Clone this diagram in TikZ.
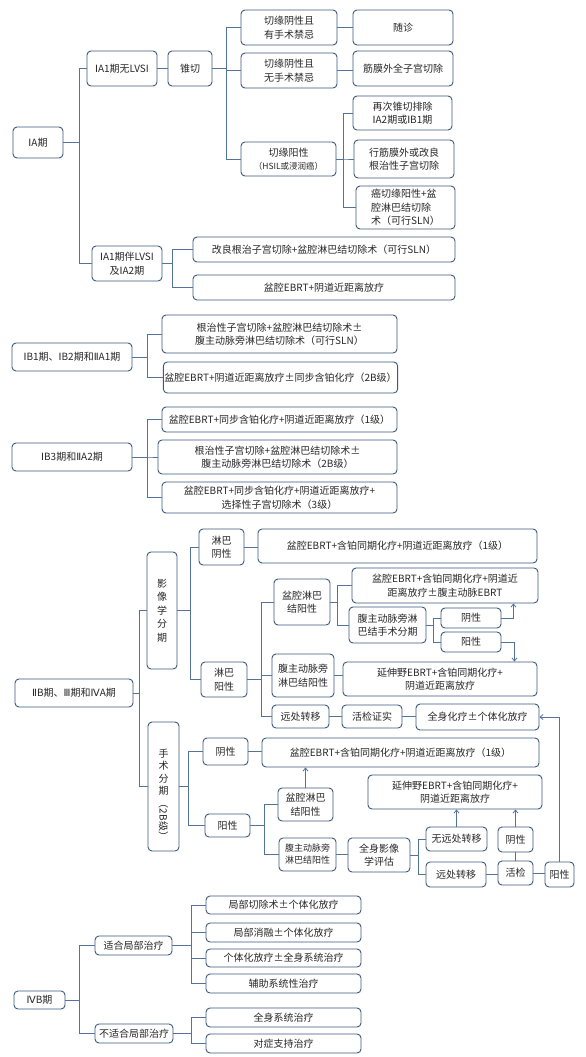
\documentclass[tikz,border=0pt]{standalone}
\usepackage{fontspec}
\usepackage{graphicx}
\setmainfont{Noto Sans CJK SC}
\newfontfamily\rnfont{DejaVu Sans}
\newcommand\RN[1]{{\rnfont #1}}
\usetikzlibrary{arrows.meta}
\definecolor{bdc}{RGB}{62,88,122}
\definecolor{lnc}{RGB}{84,115,155}
\definecolor{txc}{RGB}{40,40,40}
\tikzset{
  bx/.style={draw=bdc,line width=0.9pt,rounded corners=4pt,align=center,inner sep=1pt,text=txc,font=\fontsize{10}{13.5}\selectfont},
  lbl/.style={align=center,inner sep=0pt,text=txc,font=\fontsize{10}{12.5}\selectfont},
  ln/.style={draw=lnc,line width=0.8pt},
  ar/.style={ln,-{Straight Barb[length=3pt,width=5pt]}},
  sm/.style={font=\fontsize{9}{12}\selectfont}
}
\newcommand\mybox[7][]{\node[bx,minimum width={#5-#3},minimum height={#6-#4},#1] (#2) at ({(#3+#5)/2},{(#4+#6)/2}) {#7};}
\begin{document}
\begin{tikzpicture}[x=1pt,y=-1pt]
\fill[white] (0,0) rectangle (586,1057);
\useasboundingbox (0,0) rectangle (586,1057);
% ---- IA
\mybox{IA}{13}{127}{63}{158}{\RN{Ⅰ}A期}
\mybox{IAa}{87}{51}{157}{86}{\RN{Ⅰ}A1期无LVSI}
\mybox{zq}{168}{51}{212}{86}{锥切}
\mybox{qy1}{241}{10}{337}{45}{切缘阴性且\\有手术禁忌}
\mybox{qy2}{241}{53}{337}{88}{切缘阴性且\\无手术禁忌}
\mybox{qy3}{241}{142}{336}{176}{切缘阳性\\{\fontsize{8.5}{11}\selectfont（HSIL或浸润癌）}}
\mybox{sz}{353}{10}{453}{45}{随诊}
\mybox{jm}{353}{51}{453}{86}{筋膜外全子宫切除}
\mybox{zc}{353}{96}{452}{130}{再次锥切排除\\\RN{Ⅰ}A2期或\RN{Ⅰ}B1期}
\mybox{xj}{354}{140}{454}{178}{行筋膜外或改良\\根治性子宫切除}
\mybox[align=left]{aq}{356}{186}{455}{229}{癌切缘阳性+盆\\腔淋巴结切除\\术（可行SLN）}
\mybox{IAb}{92}{246}{162}{281}{\RN{Ⅰ}A1期伴LVSI\\及\RN{Ⅰ}A2期}
\mybox{gl}{193}{237}{455}{262}{改良根治子宫切除+盆腔淋巴结切除术（可行SLN）}
\mybox{pq1}{193}{275}{455}{300}{盆腔EBRT+阴道近距离放疗}
\draw[ln] (IA.east) -- ++(16,0) |- (IAa.west);
\draw[ln] (IA.east) -- ++(16,0) |- (IAb.west);
\draw[ln] (IAa.east) -- (IAa.east -| zq.west);
\draw[ln] (zq.east) -- ++(14,0) |- (qy1.west);
\draw[ln] (zq.east) -- ++(14,0) |- (qy2.west);
\draw[ln] (zq.east) -- ++(14,0) |- (qy3.west);
\draw[ln] (qy1.east) -- (qy1.east -| sz.west);
\draw[ln] (qy2.east) -- (qy2.east -| jm.west);
\draw[ln] (qy3.east) -- ++(7,0) |- (zc.west);
\draw[ln] (qy3.east) -- ++(7,0) |- (xj.west);
\draw[ln] (qy3.east) -- ++(7,0) |- (aq.west);
\draw[ln] (IAb.east) -- ++(10,0) |- (gl.west);
\draw[ln] (IAb.east) -- ++(10,0) |- (pq1.west);
% ---- IB1
\mybox{IB}{12}{343}{132}{371}{\RN{Ⅰ}B1期、\RN{Ⅰ}B2期和\RN{Ⅱ}A1期}
\mybox{gz1}{162}{315}{397}{353}{根治性子宫切除+盆腔淋巴结切除术±\\腹主动脉旁淋巴结切除术（可行SLN）}
\mybox{pq2}{164}{362}{397}{393}{盆腔EBRT+阴道近距离放疗±同步含铂化疗（2B级）}
\draw[ln] (IB.east) -- ++(15,0) |- (gz1.west);
\draw[ln] (IB.east) -- ++(15,0) |- (pq2.west);
% ---- IB3
\mybox{IBc}{12}{443}{132}{471}{\RN{Ⅰ}B3期和\RN{Ⅱ}A2期}
\mybox{ta}{162}{407}{397}{432}{盆腔EBRT+同步含铂化疗+阴道近距离放疗（1级）}
\mybox{tb}{158}{440}{397}{474}{根治性子宫切除+盆腔淋巴结切除术±\\腹主动脉旁淋巴结切除术（2B级）}
\mybox{tc}{162}{482}{397}{513}{盆腔EBRT+同步含铂化疗+阴道近距离放疗+\\选择性子宫切除术（3级）}
\draw[ln] (IBc.east) -- ++(15,0) |- (ta.west);
\draw[ln] (IBc.east) -- ++(15,0) |- (tb.west);
\draw[ln] (IBc.east) -- ++(15,0) |- (tc.west);
% ---- IIB
\mybox{IIB}{15}{679}{133}{707}{\RN{Ⅱ}B期、\RN{Ⅲ}期和\RN{Ⅳ}A期}
\mybox{yx}{147}{552}{177}{669}{影\\像\\学\\分\\期}
\mybox{lbn}{199}{529}{244}{565}{淋巴\\阴性}
\mybox{lbp}{201}{662}{247}{697}{淋巴\\阳性}
\mybox{ra}{258}{529}{537}{563}{盆腔EBRT+含铂同期化疗+阴道近距离放疗（1级）}
\mybox{pl}{274}{579}{330}{625}{盆腔淋巴\\结阳性}
\mybox{fz}{272}{654}{334}{697}{腹主动脉旁\\淋巴结阳性}
\mybox{yc}{272}{705}{329}{728}{远处转移}
\mybox{hj}{342}{705}{402}{728}{活检证实}
\mybox{qs}{416}{704}{539}{730}{全身化疗±个体化放疗}
\mybox{rb}{352}{568}{538}{603}{盆腔EBRT+含铂同期化疗+阴道近\\距离放疗±腹主动脉EBRT}
\mybox{fs}{349}{607}{426}{643}{腹主动脉旁淋\\巴结手术分期}
\mybox{na}{441}{608}{501}{628}{阴性}
\mybox{pa}{441}{632}{501}{652}{阳性}
\mybox{ysa}{343}{662}{537}{696}{延伸野EBRT+含铂同期化疗+\\阴道近距离放疗}
\draw[ln] (IIB.east) -- ++(6,0) |- (yx.west);
\draw[ln] (yx.east) -- ++(13,0) |- (lbn.west);
\draw[ln] (yx.east) -- ++(13,0) |- (lbp.west);
\draw[ln] (lbn.east) -- (lbn.east -| ra.west);
\draw[ln] (lbp.east) -- ++(14,0) |- (pl.west);
\draw[ln] (lbp.east) -- ++(14,0) |- (fz.west);
\draw[ln] (lbp.east) -- ++(14,0) |- (yc.west);
\draw[ln] (pl.east) -- ++(7,0) |- (rb.west);
\draw[ln] (pl.east) -- ++(7,0) |- (fs.west);
\draw[ln] (fs.east) -- ++(7,0) |- (na.west);
\draw[ln] (fs.east) -- ++(7,0) |- (pa.west);
\draw[ar] (na.east) -| ([xshift=-25pt]rb.south east);
\draw[ar] (pa.east) -| ([xshift=-23pt]ysa.north east);
\draw[ln] (fz.east) -- (fz.east -| ysa.west);
\draw[ln] (yc.east) -- (yc.east -| hj.west);
\draw[ln] (hj.east) -- (hj.east -| qs.west);
% ---- surgical staging
\mybox{ss}{148}{722}{179}{851}{}
\node[lbl] (ssa) at (163.5,772) {手\\术\\分\\期};
\node[lbl,rotate=-90] (ssb) at (163.5,820) {（2B级）};
\mybox{nb}{203}{738}{248}{765}{阴性}
\mybox{pb}{205}{814}{250}{837}{阳性}
\mybox{rc}{262}{738}{539}{767}{盆腔EBRT+含铂同期化疗+阴道近距离放疗（1级）}
\mybox{plb}{278}{788}{333}{821}{盆腔淋巴\\结阳性}
\mybox[sm]{fzb}{279}{838}{336}{871}{腹主动脉旁\\淋巴结阳性}
\mybox{qyx}{348}{838}{410}{872}{全身影像\\学评估}
\mybox{wy}{426}{827}{487}{851}{无远处转移}
\mybox{ycb}{426}{862}{486}{887}{远处转移}
\mybox{hjb}{498}{861}{533}{885}{活检}
\mybox{nc}{498}{827}{533}{852}{阴性}
\mybox{pc}{545}{862}{574}{887}{阳性}
\mybox{ysb}{368}{775}{542}{809}{延伸野EBRT+含铂同期化疗+\\阴道近距离放疗}
\draw[ln] (IIB.east) -- ++(6,0) |- (ss.west);
\draw[ln] (ss.east) -- ++(9,0) |- (nb.west);
\draw[ln] (ss.east) -- ++(9,0) |- (pb.west);
\draw[ln] (nb.east) -- (nb.east -| rc.west);
\draw[ln] (pb.east) -- ++(14,0) |- (plb.west);
\draw[ln] (pb.east) -- ++(14,0) |- (fzb.west);
\draw[ar] (plb.north) -- (plb.north |- rc.south);
\draw[ln] (fzb.east) -- (fzb.east -| qyx.west);
\draw[ln] (qyx.east) -- ++(8,0) |- (wy.west);
\draw[ln] (qyx.east) -- ++(8,0) |- (ycb.west);
\draw[ar] (wy.north) -- (wy.north |- ysb.south);
\draw[ar] (nc.north) -- (nc.north |- ysb.south);
\draw[ln] (hjb.north) -- (nc.south);
\draw[ln] (ycb.east) -- (ycb.east -| hjb.west);
\draw[ln] (hjb.east) -- (hjb.east -| pc.west);
\draw[ar] (pc.north) |- (qs.east);
% ---- IVB
\mybox{IVB}{14}{991}{65}{1009}{\RN{Ⅳ}B期}
\mybox{sh}{95}{936}{172}{955}{适合局部治疗}
\mybox{bsh}{95}{1024}{173}{1043}{不适合局部治疗}
\mybox{ca}{206}{896}{361}{914}{局部切除术±个体化放疗}
\mybox{cb}{206}{923}{361}{942}{局部消融±个体化放疗}
\mybox{cc}{206}{949}{361}{967}{个体化放疗±全身系统治疗}
\mybox{cd}{206}{974}{361}{993}{辅助系统性治疗}
\mybox{ce}{206}{1008}{361}{1027}{全身系统治疗}
\mybox{cf}{206}{1034}{361}{1053}{对症支持治疗}
\draw[ln] (IVB.east) -- ++(14,0) |- (sh.west);
\draw[ln] (IVB.east) -- ++(14,0) |- (bsh.west);
\draw[ln] (sh.east) -- ++(19,0) |- (ca.west);
\draw[ln] (sh.east) -- ++(19,0) |- (cb.west);
\draw[ln] (sh.east) -- ++(19,0) |- (cc.west);
\draw[ln] (sh.east) -- ++(19,0) |- (cd.west);
\draw[ln] (bsh.east) -- ++(18,0) |- (ce.west);
\draw[ln] (bsh.east) -- ++(18,0) |- (cf.west);
\end{tikzpicture}
\end{document}
